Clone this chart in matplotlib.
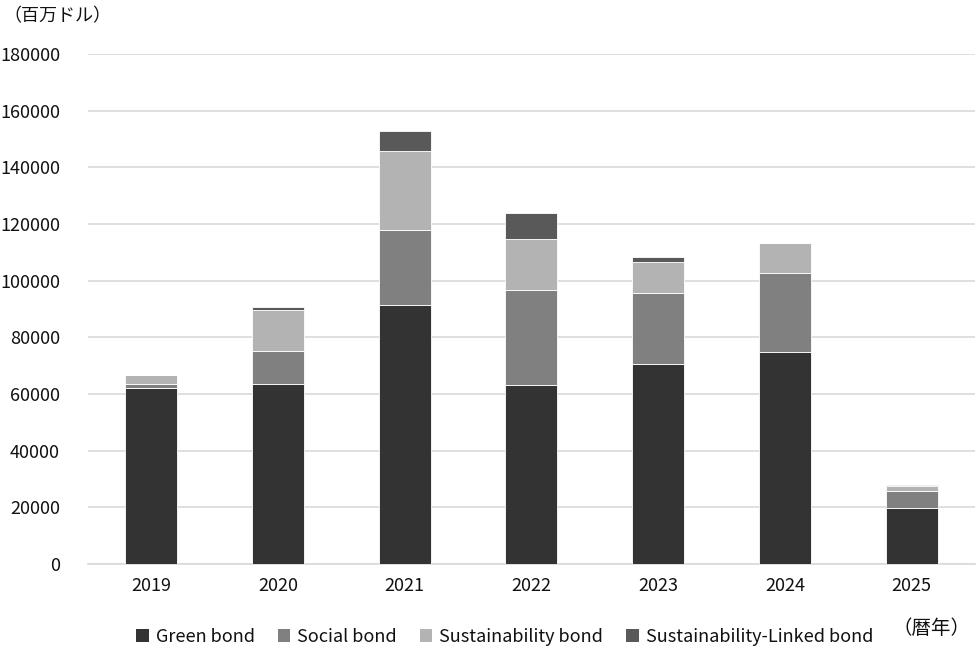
import numpy as np
import matplotlib.pyplot as plt
from matplotlib.patches import Patch

plt.rcParams['font.family'] = ['Noto Sans CJK JP', 'DejaVu Sans']

years = ['2019', '2020', '2021', '2022', '2023', '2024', '2025']
green = [62000, 63400, 91400, 63200, 70500, 74900, 19900]
social = [1400, 11800, 26500, 33500, 25000, 27700, 6000]
sustain = [3300, 14400, 28000, 18000, 11200, 10600, 1800]
linked = [0, 1000, 7000, 9200, 1500, 0, 200]

labels = ['Green bond', 'Social bond', 'Sustainability bond', 'Sustainability-Linked bond']
colors = ['#333333', '#808080', '#b3b3b3', '#595959']

fig = plt.figure(figsize=(9.76, 6.48), dpi=100)
ax = fig.add_axes([0.090, 0.1296, 0.909, 0.7871])

x = np.arange(len(years))
bottom = np.zeros(len(years))
for vals, c in zip([green, social, sustain, linked], colors):
    ax.bar(x, vals, 0.41, bottom=bottom, color=c, edgecolor='white', linewidth=0.6, zorder=3)
    bottom += np.array(vals)

ax.set_xlim(-0.5, len(years) - 0.5)
ax.set_ylim(0, 180000)
ax.set_yticks(np.arange(0, 180001, 20000))
ax.set_xticks(x)
ax.set_xticklabels(years)
ax.yaxis.grid(True, color='#d9d9d9', linewidth=1.2, zorder=0)
for s in ['top', 'right', 'left']:
    ax.spines[s].set_visible(False)
ax.spines['bottom'].set_color('#d9d9d9')
ax.spines['bottom'].set_linewidth(1.2)
ax.tick_params(length=0, labelsize=13, colors='#111111')
ax.tick_params(axis='x', pad=9)
ax.tick_params(axis='y', pad=20)

fig.text(0.004, 0.975, '（百万ドル）', fontsize=13, color='#111111', va='center')
fig.text(0.914, 0.03, '（暦年）', fontsize=14, color='#111111', va='center')

handles = [Patch(facecolor=c, label=l) for c, l in zip(colors, labels)]
fig.legend(handles=handles, loc='center', bbox_to_anchor=(0.517, 0.017), ncol=4, frameon=False,
           fontsize=13, handlelength=0.7, handleheight=0.7, columnspacing=1.25, handletextpad=0.4,
           labelcolor='#111111')

fig.savefig('out.png', dpi=100)
